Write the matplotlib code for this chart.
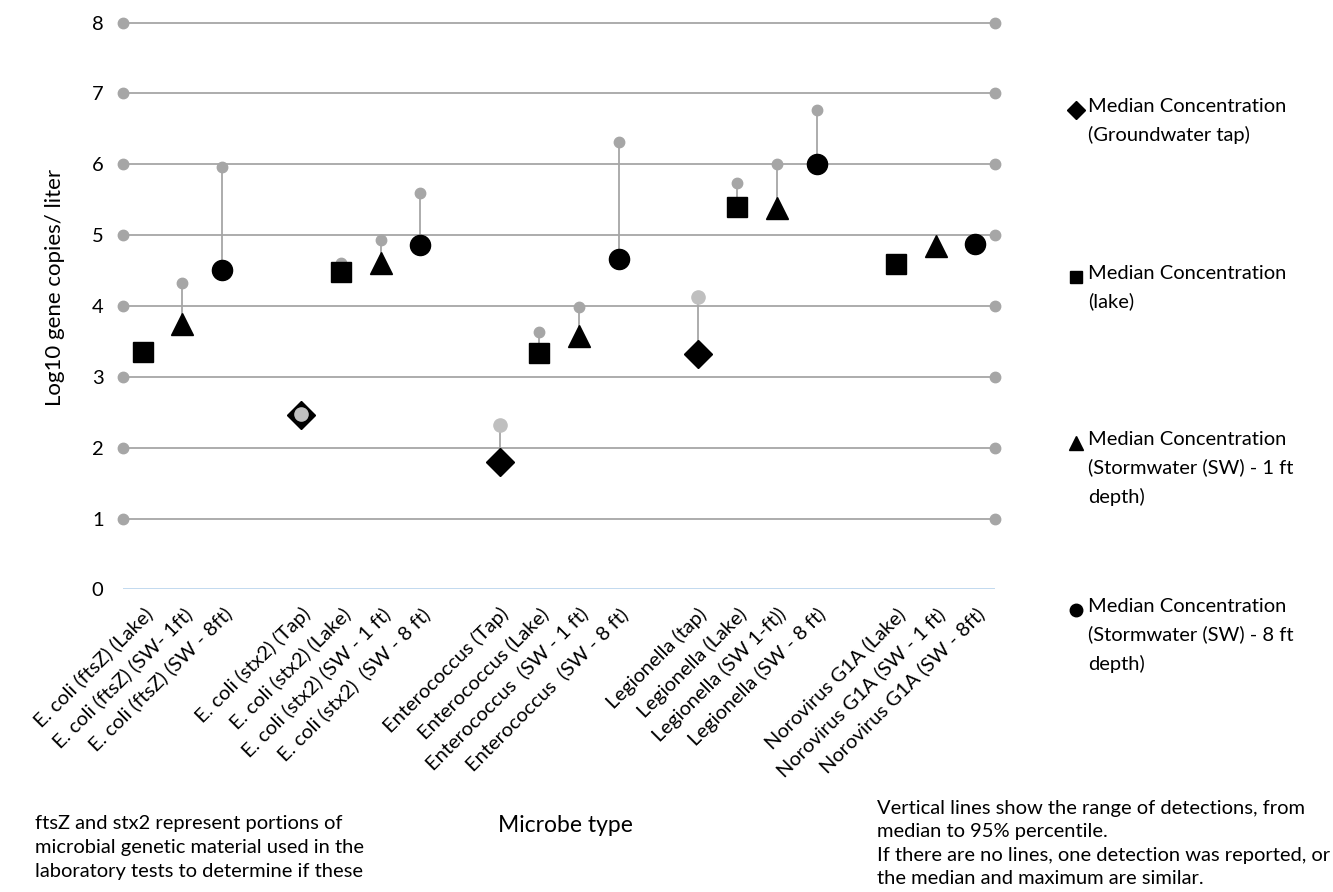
import numpy as np
import matplotlib
matplotlib.use("Agg")
import matplotlib.pyplot as plt
from matplotlib.lines import Line2D

plt.rcParams["font.family"] = ["Lato", "DejaVu Sans"]

# categories (blank entries are gaps between microbe groups)
categories = [
    "E. coli (ftsZ) (Lake)", "E. coli (ftsZ) (SW- 1ft)", "E. coli (ftsZ) (SW - 8ft)", "",
    "E. coli (stx2) (Tap)", "E. coli (stx2) (Lake)", "E. coli (stx2) (SW - 1 ft)", "E. coli (stx2)  (SW - 8 ft)", "",
    "Enterococcus (Tap)", "Enterococcus (Lake)", "Enterococcus  (SW - 1 ft)", "Enterococcus  (SW - 8 ft)", "",
    "Legionella (tap)", "Legionella (Lake)", "Legionella (SW 1-ft))", "Legionella (SW - 8 ft)", "",
    "Norovirus G1A (Lake)", "Norovirus G1A (SW - 1 ft)", "Norovirus G1A (SW - 8ft)",
]
nan = np.nan
# median log10 gene copies / liter per sample type
med_tap = [nan, nan, nan, nan, 2.46, nan, nan, nan, nan, 1.80, nan, nan, nan, nan,
           3.32, nan, nan, nan, nan, nan, nan, nan]
med_lake = [3.35, nan, nan, nan, nan, 4.48, nan, nan, nan, nan, 3.33, nan, nan, nan,
            nan, 5.40, nan, nan, nan, 4.59, nan, nan]
med_sw1 = [nan, 3.75, nan, nan, nan, nan, 4.60, nan, nan, nan, nan, 3.57, nan, nan,
           nan, nan, 5.38, nan, nan, nan, 4.84, nan]
med_sw8 = [nan, nan, 4.51, nan, nan, nan, nan, 4.86, nan, nan, nan, nan, 4.66, nan,
           nan, nan, nan, 6.00, nan, nan, nan, 4.87]
# 95th percentile
p95 = [nan, 4.33, 5.96, nan, 2.48, 4.60, 4.93, 5.60, nan, 2.32, 3.63, 3.99, 6.31, nan,
       4.12, 5.73, 6.00, 6.76, nan, nan, nan, nan]
yticks = [0, 1, 2, 3, 4, 5, 6, 7, 8]

series = [
    ("Median Concentration\n(Groundwater tap)", med_tap, "D", 14.5),
    ("Median Concentration\n(lake)", med_lake, "s", 14),
    ("Median Concentration\n(Stormwater (SW) - 1 ft\ndepth)", med_sw1, "^", 16),
    ("Median Concentration\n(Stormwater (SW) - 8 ft\ndepth)", med_sw8, "o", 14.5),
]

GRID = "#A6A6A6"
FS = 14.5

fig = plt.figure(figsize=(13.33, 8.92), dpi=100)
ax = fig.add_axes([0.0923, 0.3392, 0.6542, 0.6355])
x = np.arange(len(categories))
ax.set_xlim(-0.5, len(categories) - 0.5)
ax.set_ylim(0, 8)

# gridlines with dots at both ends
for yv in yticks[1:]:
    ax.plot([-0.5, len(categories) - 0.5], [yv, yv], color=GRID, lw=1.3,
            marker="o", ms=7.5, mec=GRID, mfc=GRID, clip_on=False, zorder=1)
ax.axhline(0, color="#BDD7EE", lw=1.3, zorder=1)

# median combined across series, for the range lines
med_all = np.nanmax(np.array([med_tap, med_lake, med_sw1, med_sw8]), axis=0)
p95 = np.array(p95)
tap = ~np.isnan(np.array(med_tap))
for i in range(len(categories)):
    if np.isnan(p95[i]):
        continue
    ax.plot([x[i], x[i]], [med_all[i], p95[i]], color=GRID, lw=1.3, zorder=2)
ax.plot(x[~tap], p95[~tap], "o", color=GRID, ms=7.5, zorder=2, clip_on=False)
ax.plot(x[tap], p95[tap], "o", color="#BFBFBF", ms=9.5, zorder=5, clip_on=False)

for label, vals, mk, ms in series:
    ax.plot(x, vals, mk, color="black", ms=ms, zorder=4, clip_on=False)

for s in ax.spines.values():
    s.set_visible(False)
ax.set_yticks(yticks)
ax.set_xticks(x)
ax.set_xticklabels(categories, rotation=45, ha="right", rotation_mode="anchor", fontsize=14.5)
ax.tick_params(axis="y", length=0, pad=14, labelsize=14.5)
ax.tick_params(axis="x", length=0, pad=11)
ax.set_ylabel("Log10 gene copies/ liter", fontsize=16)
ax.yaxis.set_label_coords(-0.066, 0.533)
ax.set_xlabel("Microbe type", fontsize=16.5)
ax.xaxis.label.set_va("center")
ax.xaxis.set_label_coords(0.507, -0.417)

# legend entries, marker next to the first line
leg_y = [110, 277, 443, 610]
for (label, vals, mk, ms), ly in zip(series, leg_y):
    yf = 1 - ly / 892
    fig.add_artist(Line2D([1076 / 1333], [yf], marker=mk, color="black",
                          ms=ms * 0.62, transform=fig.transFigure))
    fig.text(1088 / 1333, yf + 12 / 892, label, fontsize=FS, va="top", ha="left",
             linespacing=1.72)

fig.text(35 / 1333, 1 - 815 / 892,
         "ftsZ and stx2 represent portions of\nmicrobial genetic material used in the\n"
         "laboratory tests to determine if these",
         fontsize=FS, va="top", ha="left", linespacing=1.5)
fig.text(877 / 1333, 1 - 800 / 892,
         "Vertical lines show the range of detections, from\nmedian to 95% percentile.\n"
         "If there are no lines, one detection was reported, or\nthe median and maximum are similar.",
         fontsize=FS, va="top", ha="left", linespacing=1.45)

fig.savefig("out.png", dpi=100)
